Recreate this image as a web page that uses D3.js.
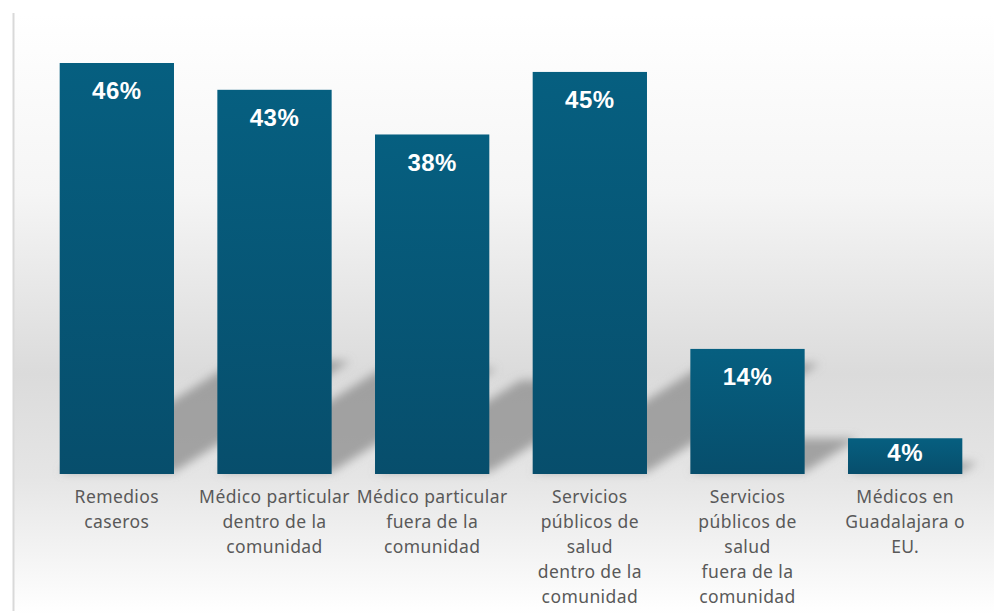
<!DOCTYPE html>
<html>
<head>
<meta charset="utf-8">
<script src="https://cdn.jsdelivr.net/npm/d3@7"></script>
<style>
  body { margin: 0; background: #fff; }
  svg { display: block; }
</style>
</head>
<body>
<script>
var categories = [
  ["Remedios", "caseros"],
  ["Médico particular", "dentro de la", "comunidad"],
  ["Médico particular", "fuera de la", "comunidad"],
  ["Servicios", "públicos de", "salud", "dentro de la", "comunidad"],
  ["Servicios", "públicos de", "salud", "fuera de la", "comunidad"],
  ["Médicos en", "Guadalajara o", "EU."]
];
var values = [46, 43, 38, 45, 14, 4];
var valueLabels = ["46%", "43%", "38%", "45%", "14%", "4%"];

var width = 994,
    height = 614;

var svg = d3.select("body").append("svg")
    .attr("width", width)
    .attr("height", height);

var defs = svg.append("defs");

// background gradient (white -> grey -> white)
var bg = defs.append("linearGradient")
    .attr("id", "bg").attr("x1", 0).attr("y1", 0).attr("x2", 0).attr("y2", 1);
bg.append("stop").attr("offset", 0).attr("stop-color", "#ffffff");
bg.append("stop").attr("offset", 0.3).attr("stop-color", "#f5f5f5");
bg.append("stop").attr("offset", 0.6).attr("stop-color", "#dbdbdb");
bg.append("stop").attr("offset", 0.77).attr("stop-color", "#e5e5e5");
bg.append("stop").attr("offset", 1).attr("stop-color", "#ffffff");

var barGrad = defs.append("linearGradient")
    .attr("id", "barGrad").attr("x1", 0).attr("y1", 0).attr("x2", 0).attr("y2", 1);
barGrad.append("stop").attr("offset", 0).attr("stop-color", "#065f80");
barGrad.append("stop").attr("offset", 1).attr("stop-color", "#074e6c");

defs.append("filter").attr("id", "blur")
    .attr("x", "-50%").attr("y", "-50%").attr("width", "200%").attr("height", "200%")
  .append("feGaussianBlur").attr("stdDeviation", 5);

svg.append("rect")
    .attr("x", 14).attr("y", 13)
    .attr("width", width - 14).attr("height", height - 13)
    .attr("fill", "url(#bg)");

svg.append("line")
    .attr("x1", 13.5).attr("x2", 13.5)
    .attr("y1", 13).attr("y2", 611)
    .attr("stroke", "#d9d9d9")
    .attr("stroke-width", 2);

var x = d3.scaleBand()
    .domain(d3.range(values.length))
    .range([38, 984])
    .paddingInner(0.275)
    .paddingOuter(0.1375);

var y = d3.scaleLinear()
    .domain([0, 46])
    .range([474, 63]);

// perspective shadows behind the bars
var slope = 0.63;
svg.append("g").attr("filter", "url(#blur)")
  .selectAll("path").data(values).enter().append("path")
    .attr("fill", "#8c8c8c")
    .attr("fill-opacity", 0.75)
    .attr("d", function(d, i) {
      var x0 = x(i), x1 = x(i) + x.bandwidth(), b = y(0) - 2;
      var sh = (y(0) - y(d)) * 0.27, dx = sh / slope;
      return "M" + x0 + "," + b + "L" + x1 + "," + b +
        "L" + (x1 + dx) + "," + (b - sh) + "L" + (x0 + dx) + "," + (b - sh) + "Z";
    });

svg.append("g").selectAll("rect").data(values).enter().append("rect")
    .attr("x", function(d, i) { return x(i); })
    .attr("y", function(d) { return y(d); })
    .attr("width", x.bandwidth())
    .attr("height", function(d) { return y(0) - y(d); })
    .attr("fill", "url(#barGrad)");

svg.append("g").selectAll("text").data(values).enter().append("text")
    .attr("x", function(d, i) { return x(i) + x.bandwidth() / 2; })
    .attr("y", function(d) {
      var h = y(0) - y(d);
      return y(d) + Math.min(28, h / 2 - 4);
    })
    .attr("dy", "0.35em")
    .attr("text-anchor", "middle")
    .attr("fill", "#ffffff")
    .style("font-family", "'Liberation Sans', Arial, sans-serif")
    .style("font-weight", "bold")
    .style("font-size", "24px")
    .style("letter-spacing", "0.5px")
    .text(function(d, i) { return valueLabels[i]; });

var labels = svg.append("g").selectAll("text").data(categories).enter().append("text")
    .attr("text-anchor", "middle")
    .attr("fill", "#595959")
    .style("font-family", "'Noto Sans', sans-serif")
    .style("font-size", "17.5px")
    .style("letter-spacing", "0.4px")
    .attr("transform", function(d, i) {
      return "translate(" + (x(i) + x.bandwidth() / 2) + ",503)";
    });

labels.selectAll("tspan").data(function(d) { return d; }).enter().append("tspan")
    .attr("x", 0)
    .attr("y", function(d, j) { return j * 25; })
    .text(function(d) { return d; });
</script>
</body>
</html>
